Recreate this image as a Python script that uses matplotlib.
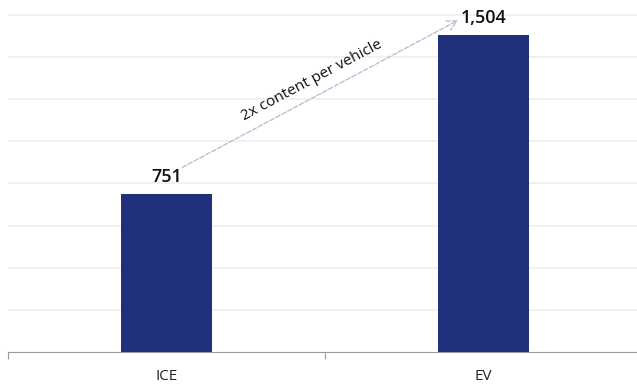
import matplotlib.pyplot as plt
import numpy as np

plt.rcParams['font.family'] = ['Open Sans', 'DejaVu Sans']

categorias = ['ICE', 'EV']
valores = [751, 1504]
etiquetas = ['751', '1,504']
texto_flecha = '2x content per vehicle'

color_barras = '#21307c'
color_rejilla = '#efefef'

fig = plt.figure(figsize=(6.37, 3.88), dpi=100)
ax = fig.add_axes([8 / 637, 36 / 388, 634 / 637, 352 / 388])

posiciones = np.arange(len(categorias))
ax.bar(posiciones, valores, width=0.285, color=color_barras, zorder=3)

ax.set_xlim(-0.5, 1.5)
ax.set_ylim(0, 1670)
ax.set_yticks(np.arange(200, 1601, 200))
ax.yaxis.grid(True, color=color_rejilla, linewidth=1.2, zorder=0)
ax.tick_params(axis='y', left=False, labelleft=False)

# ticks del eje X entre categorias, etiquetas centradas
ax.set_xticks([-0.5, 0.5, 1.5])
ax.set_xticklabels([])
ax.set_xticks(posiciones, minor=True)
ax.set_xticklabels(categorias, minor=True, fontsize=11, color='#222222')
ax.tick_params(axis='x', which='major', length=5, color='#9a9a9a', width=0.8)
ax.tick_params(axis='x', which='minor', length=0, pad=12)

for lado in ['top', 'right', 'left']:
    ax.spines[lado].set_visible(False)
ax.spines['bottom'].set_color('#9a9a9a')
ax.spines['bottom'].set_linewidth(0.8)

# etiquetas de valores
for x, v, t in zip(posiciones, valores, etiquetas):
    ax.text(x, v + 57, t, ha='center', va='baseline', fontsize=13, fontweight='semibold', color='#111111')

# flecha discontinua entre barras
ax.annotate('', xy=(0.92, valores[1] + 70), xytext=(0.05, valores[0] + 125),
            arrowprops=dict(arrowstyle='->', color='#b9b6d4', linestyle='--',
                            linewidth=0.9, mutation_scale=18, shrinkA=0, shrinkB=0), zorder=4)
ax.text(0.46, 1290, texto_flecha, rotation=28, ha='center', va='center',
        fontsize=11, color='#111111', rotation_mode='anchor')

fig.savefig('out.png', dpi=100)
